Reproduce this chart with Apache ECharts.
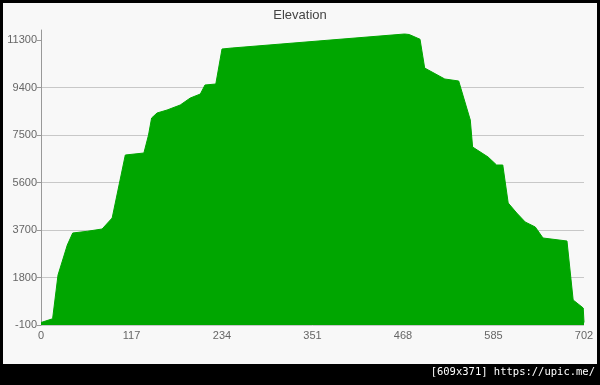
<!DOCTYPE html>
<html>
<head>
<meta charset="utf-8">
<script src="https://cdn.jsdelivr.net/npm/echarts@6/dist/echarts.min.js"></script>
<style>
html, body { margin: 0; padding: 0; background: #000; }
#chart { width: 600px; height: 385px; }
</style>
</head>
<body>
<div id="chart"></div>
<script>
// 距离（横轴）和海拔（纵轴）
var distance = [0, 15, 22, 28, 34, 41, 60, 79, 92, 109, 133, 139, 143, 150, 163, 180, 193, 206, 212, 226, 234, 247, 470, 476, 490, 496, 522, 540, 555, 558, 578, 589, 597, 604, 615, 626, 639, 649, 680, 688, 701, 702];
var elevation = [0, 150, 1900, 2500, 3100, 3580, 3650, 3740, 4180, 6700, 6780, 7500, 8180, 8380, 8500, 8700, 8980, 9140, 9500, 9540, 10940, 10980, 11540, 11520, 11330, 10180, 9740, 9660, 8100, 7020, 6620, 6300, 6300, 4780, 4380, 4020, 3820, 3380, 3260, 900, 580, 0];
// 坐标轴刻度
var xTicks = [0, 117, 234, 351, 468, 585, 702];
var yTicks = [-100, 1800, 3700, 5600, 7500, 9400, 11300];

var points = [];
for (var i = 0; i < distance.length; i++) {
	points.push([distance[i], elevation[i]]);
}

var chart = echarts.init(document.getElementById('chart'));
chart.setOption({
	backgroundColor : '#000',
	animation : false,
	graphic : [ {
		type : 'rect',
		z : -10,
		shape : { x : 3, y : 3, width : 594, height : 361 },
		style : { fill : '#f8f8f8' }
	}, {
		type : 'text',
		right : 5,
		top : 367,
		style : {
			text : '[609x371] https://upic.me/',
			fill : '#fff',
			font : '10.5px "DejaVu Sans Mono"'
		}
	} ],
	title : {
		text : 'Elevation',
		left : 'center',
		top : 4,
		textStyle : {
			color : '#444',
			fontSize : 13,
			fontWeight : 'normal',
			fontFamily : 'Liberation Sans'
		}
	},
	grid : { left : 41, right : 16, top : 30, bottom : 60 },
	xAxis : {
		type : 'value',
		min : 0,
		max : 702,
		interval : 117,
		axisLine : { show : false },
		axisTick : { show : false },
		splitLine : { show : false },
		axisLabel : {
			color : '#666',
			fontSize : 11,
			fontFamily : 'Liberation Sans',
			margin : 5,
			customValues : xTicks,
			formatter : function(v) { return String(v); }
		}
	},
	yAxis : {
		type : 'value',
		min : -100,
		max : 11700,
		interval : 1900,
		axisLine : { show : true, lineStyle : { color : '#999' } },
		axisTick : { show : true, length : 4, lineStyle : { color : '#999' }, customValues : yTicks },
		splitLine : { show : true, showMaxLine : false, lineStyle : { color : '#c8c8c8' } },
		axisLabel : {
			color : '#666',
			fontSize : 11,
			fontFamily : 'Liberation Sans',
			margin : 4,
			customValues : yTicks,
			formatter : function(v) { return String(v); }
		}
	},
	series : [ {
		type : 'line',
		data : points,
		symbol : 'none',
		lineStyle : { color : '#00a600', width : 1 },
		areaStyle : { color : '#00a600', opacity : 1, origin : 'start' }
	} ]
});
</script>
</body>
</html>
